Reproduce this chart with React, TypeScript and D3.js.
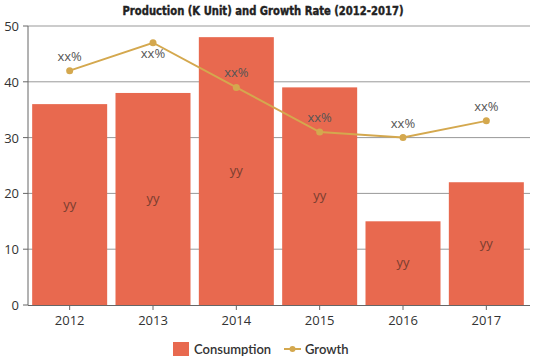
import React from "react";
import * as d3 from "d3";

const categories = ["2012", "2013", "2014", "2015", "2016", "2017"];
const consumption = [36, 38, 48, 39, 15, 22];
const growth = [42, 47, 39, 31, 30, 33];
const yTicks = [0, 10, 20, 30, 40, 50];
const barLabels = ["yy", "yy", "yy", "yy", "yy", "yy"];
const pointLabels = ["xx%", "xx%", "xx%", "xx%", "xx%", "xx%"];

const W = 539;
const H = 359;
const left = 28;
const right = 528;
const top = 26;
const bottom = 305;

const BAR = "#E8694F";
const LINE = "#D4A84E";

export default function App() {
  const x = d3.scaleBand<string>().domain(categories).range([left, right]).paddingInner(0.1).paddingOuter(0.05);
  const y = d3.scaleLinear().domain([0, 50]).range([bottom, top]);
  const cx = (c: string) => (x(c) as number) + x.bandwidth() / 2;
  const line = d3
    .line<number>()
    .x((_, i) => cx(categories[i]))
    .y((d) => y(d));
  const font = "'Open Sans', 'Noto Sans', sans-serif";
  return (
    <svg width={W} height={H} style={{ position: "absolute", left: 0, top: 0 }} fontFamily={font}>
      <rect width={W} height={H} fill="#fff" />
      <text
        x={263}
        y={15}
        textAnchor="middle"
        fontFamily="'DejaVu Sans Condensed', 'Liberation Sans Narrow', sans-serif"
        fontWeight="bold"
        fontSize={13}
        fill="#222"
        stroke="#222"
        strokeWidth={0.4}
        textLength={281}
        lengthAdjust="spacingAndGlyphs"
      >
        Production (K Unit) and Growth Rate (2012-2017)
      </text>
      {yTicks.map((t) => (
        <g key={t}>
          {t > 0 && <line x1={left} x2={530} y1={y(t)} y2={y(t)} stroke="#999" strokeWidth={1} />}
          <line x1={left - 5} x2={left} y1={y(t)} y2={y(t)} stroke="#666" />
          <text x={left - 9} y={y(t) + 5} textAnchor="end" fontSize={13} fill="#333">
            {t}
          </text>
        </g>
      ))}
      <line x1={left} x2={left} y1={top} y2={bottom} stroke="#666" />
      {categories.map((c, i) => (
        <rect
          key={c}
          x={x(c)}
          y={y(consumption[i])}
          width={x.bandwidth()}
          height={bottom - y(consumption[i])}
          fill={BAR}
        />
      ))}
      <line x1={left} x2={530} y1={bottom + 0.5} y2={bottom + 0.5} stroke="#666" />
      {categories.map((c) => (
        <line key={c} x1={cx(c)} x2={cx(c)} y1={bottom} y2={bottom + 5} stroke="#666" />
      ))}
      {categories.map((c) => (
        <text key={c} x={cx(c)} y={bottom + 20} textAnchor="middle" fontSize={13} fill="#333">
          {c}
        </text>
      ))}
      {categories.map((c, i) => (
        <text
          key={c}
          x={cx(c)}
          y={(y(consumption[i]) + bottom) / 2 + 4}
          textAnchor="middle"
          fontSize={13}
          fill="#7a3e30"
        >
          {barLabels[i]}
        </text>
      ))}
      <path d={line(growth) as string} fill="none" stroke={LINE} strokeWidth={2} />
      {categories.map((c, i) => (
        <circle key={c} cx={cx(c)} cy={y(growth[i])} r={3.5} fill={LINE} />
      ))}
      {categories.map((c, i) => (
        <text
          key={c}
          x={cx(c)}
          y={Math.max(y(growth[i]) - 10, top + 32)}
          textAnchor="middle"
          fontSize={13}
          fill="#555"
        >
          {pointLabels[i]}
        </text>
      ))}
      <g>
        <rect x={173} y={342} width={16} height={14} fill={BAR} />
        <text x={194} y={354} fontSize={13} fontWeight={600} fill="#333" fontFamily="Lato, 'Open Sans', sans-serif">
          Consumption
        </text>
        <line x1={284} x2={301} y1={349} y2={349} stroke={LINE} strokeWidth={2} />
        <circle cx={292.5} cy={349} r={3} fill={LINE} />
        <text x={305} y={354} fontSize={13} fontWeight={600} fill="#333" fontFamily="Lato, 'Open Sans', sans-serif">
          Growth
        </text>
      </g>
    </svg>
  );
}
